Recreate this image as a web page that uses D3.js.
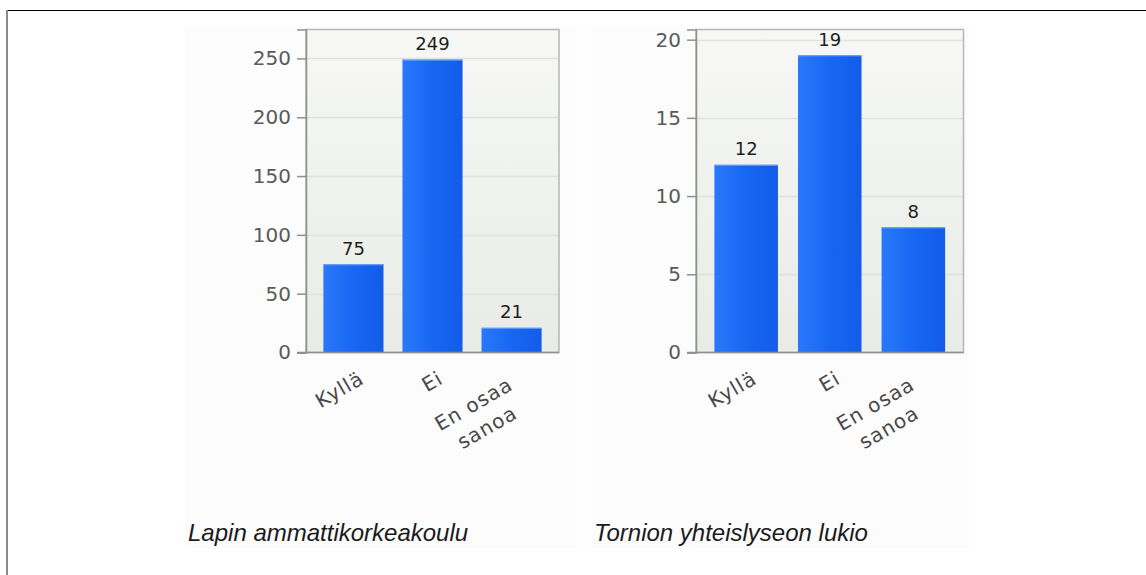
<!DOCTYPE html>
<html>
<head>
<meta charset="utf-8">
<script src="https://cdn.jsdelivr.net/npm/d3@7/dist/d3.min.js"></script>
<style>
  html, body { margin: 0; padding: 0; background: #ffffff; }
  svg { display: block; }
</style>
</head>
<body>
<svg id="chart" width="1146" height="575"></svg>
<script>
// Survey answers per school
const categories = ["Kyllä", "Ei", "En osaa sanoa"];
const categoryLines = [["Kyllä"], ["Ei"], ["En osaa", "sanoa"]];
const lapinValues = [75, 249, 21];
const tornioValues = [12, 19, 8];
const lapinTicks = [0, 50, 100, 150, 200, 250];
const tornioTicks = [0, 5, 10, 15, 20];
const titles = ["Lapin ammattikorkeakoulu", "Tornion yhteislyseon lukio"];

const svg = d3.select("#chart");
const defs = svg.append("defs");

// plot background: pale, slightly darker towards the bottom
const bg = defs.append("linearGradient").attr("id", "plotBg")
  .attr("x1", 0).attr("y1", 0).attr("x2", 0).attr("y2", 1);
bg.append("stop").attr("offset", "0%").attr("stop-color", "#f7f8f6");
bg.append("stop").attr("offset", "100%").attr("stop-color", "#e8ebe6");

// bar fill: lighter on the left edge, deeper on the right
const barG = defs.append("linearGradient").attr("id", "barFill")
  .attr("x1", 0).attr("y1", 0).attr("x2", 1).attr("y2", 0);
barG.append("stop").attr("offset", "0%").attr("stop-color", "#2a78fa");
barG.append("stop").attr("offset", "50%").attr("stop-color", "#1767f3");
barG.append("stop").attr("offset", "100%").attr("stop-color", "#125ce9");

// outer frame
svg.append("line").attr("x1", 7).attr("x2", 1146).attr("y1", 10.5).attr("y2", 10.5)
  .attr("stroke", "#000").attr("stroke-width", 1);
svg.append("line").attr("x1", 7).attr("x2", 7).attr("y1", 10).attr("y2", 575)
  .attr("stroke", "#8a8a8a").attr("stroke-width", 2);

// faint panels behind each chart
svg.append("rect").attr("x", 185).attr("y", 27).attr("width", 392).attr("height", 521).attr("fill", "#fcfcfc");
svg.append("rect").attr("x", 591).attr("y", 27).attr("width", 378).attr("height", 521).attr("fill", "#fcfcfc");

function drawChart(cfg) {
  const g = svg.append("g");
  const x = d3.scaleBand().domain(categories).range([cfg.left, cfg.right])
    .paddingInner(0.24).paddingOuter(0.22);
  const y = d3.scaleLinear().domain([0, cfg.max]).range([cfg.bottom, cfg.top]);

  g.append("rect").attr("x", cfg.left).attr("y", cfg.top)
    .attr("width", cfg.right - cfg.left).attr("height", cfg.bottom - cfg.top)
    .attr("fill", "url(#plotBg)");

  // gridlines
  g.selectAll(".grid").data(cfg.ticks.filter(t => t > 0)).join("line")
    .attr("x1", cfg.left).attr("x2", cfg.right)
    .attr("y1", d => Math.round(y(d)) + 0.5).attr("y2", d => Math.round(y(d)) + 0.5)
    .attr("stroke", "#e0e2df").attr("stroke-width", 1.5);

  // frame of the plot area
  g.append("rect").attr("x", cfg.left).attr("y", cfg.top)
    .attr("width", cfg.right - cfg.left).attr("height", cfg.bottom - cfg.top)
    .attr("fill", "none").attr("stroke", "#b4b6b3").attr("stroke-width", 1.5);

  // bars
  g.selectAll(".bar").data(cfg.values).join("rect")
    .attr("x", (d, i) => x(categories[i]))
    .attr("y", d => y(d))
    .attr("width", x.bandwidth())
    .attr("height", d => y(0) - y(d))
    .attr("fill", "url(#barFill)");
  g.selectAll(".barTop").data(cfg.values).join("line")
    .attr("x1", (d, i) => x(categories[i]))
    .attr("x2", (d, i) => x(categories[i]) + x.bandwidth())
    .attr("y1", d => y(d) + 0.5).attr("y2", d => y(d) + 0.5)
    .attr("stroke", "#6ea2f6").attr("stroke-width", 1);

  // value labels
  g.selectAll(".val").data(cfg.values).join("text")
    .attr("x", (d, i) => x(categories[i]) + x.bandwidth() / 2)
    .attr("y", d => y(d) - 9.5)
    .attr("text-anchor", "middle")
    .attr("font-family", "DejaVu Sans, sans-serif")
    .attr("font-size", 18)
    .attr("fill", "#1e1e1e")
    .text(d => d);

  // y axis
  const yAxis = d3.axisLeft(y).tickValues(cfg.ticks).tickSize(9).tickPadding(6);
  const ya = g.append("g").attr("transform", `translate(${cfg.left},0)`).call(yAxis);
  ya.select(".domain").attr("stroke", "#8f918e").attr("stroke-width", 1.5);
  ya.selectAll(".tick line").attr("stroke", "#8f918e").attr("stroke-width", 1.5);
  ya.selectAll(".tick text")
    .attr("font-family", "DejaVu Sans, sans-serif")
    .attr("font-size", 20)
    .attr("fill", "#5a5a5a");

  // baseline
  g.append("line").attr("x1", cfg.left - 9).attr("x2", cfg.right)
    .attr("y1", y(0)).attr("y2", y(0))
    .attr("stroke", "#8f918e").attr("stroke-width", 1.5);

  // rotated category labels
  categoryLines.forEach((lines, i) => {
    const cx = x(categories[i]) + x.bandwidth() / 2;
    const multi = lines.length > 1;
    const t = g.append("text")
      .attr("transform", multi
        ? `translate(${cx - 34.5},${y(0) + 57.5}) rotate(-30)`
        : `translate(${cx + 12},${y(0) + 30}) rotate(-30)`)
      .attr("text-anchor", multi ? "middle" : "end")
      .attr("font-family", "DejaVu Sans, sans-serif")
      .attr("font-size", 20)
      .attr("letter-spacing", 1)
      .attr("fill", "#474747");
    lines.forEach((ln, j) => {
      t.append("tspan").attr("x", 0).attr("y", j * 27).text(ln);
    });
  });

  // caption under the chart
  svg.append("text")
    .attr("x", cfg.titleX).attr("y", 541)
    .attr("font-family", "Liberation Sans, Arial, sans-serif")
    .attr("font-style", "italic")
    .attr("font-size", 24)
    .attr("fill", "#1a1a1a")
    .text(cfg.title);
}

drawChart({ left: 306, right: 559, top: 29.5, bottom: 352.5, max: 274.6,
  values: lapinValues, ticks: lapinTicks, title: titles[0], titleX: 188 });
drawChart({ left: 696, right: 963.5, top: 29.5, bottom: 352.5, max: 20.65,
  values: tornioValues, ticks: tornioTicks, title: titles[1], titleX: 594 });
</script>
</body>
</html>
